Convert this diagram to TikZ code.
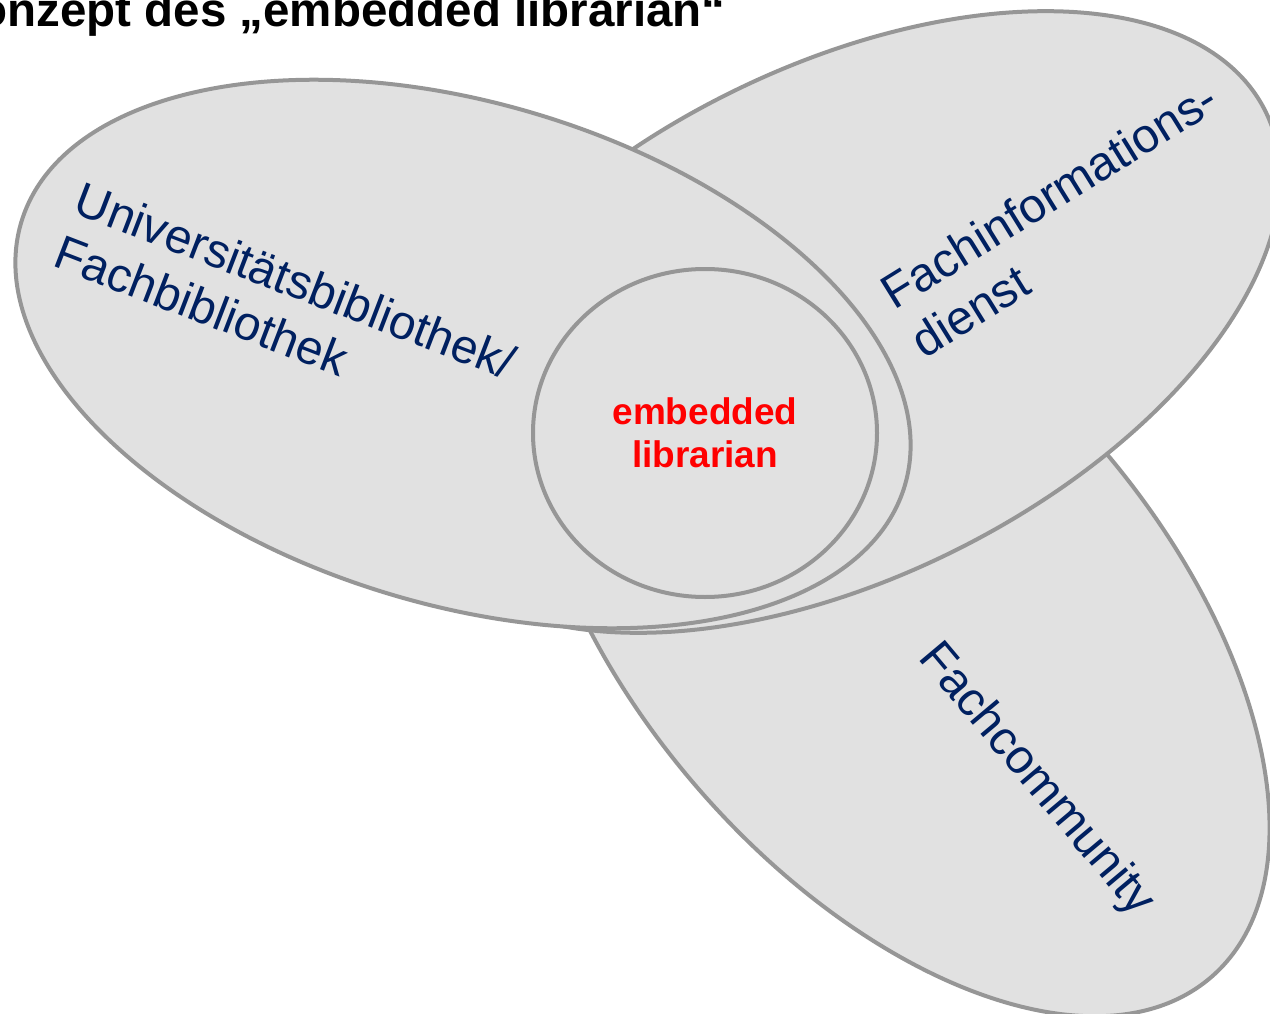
\documentclass[tikz,border=0pt]{standalone}
\usepackage{fontspec}
\setmainfont{Liberation Sans}
\usetikzlibrary{shapes.geometric}

\definecolor{fieldgray}{RGB}{225,225,225}
\definecolor{rimgray}{RGB}{150,150,150}
\definecolor{navyblue}{RGB}{0,32,96}

\begin{document}
\begin{tikzpicture}[x = 1pt, y = -1pt,
	field/.style = {ellipse, draw = rimgray, fill = fieldgray, line width = 4pt, inner sep = 0pt},
	fieldtext/.style = {text = navyblue, font = \fontsize{48}{57}\selectfont, align = left, inner sep = 0pt}]

	% Frame

	\useasboundingbox (0, 0) rectangle (1270, 1014);
	\clip (0, 0) rectangle (1270, 1014);

	% Title

	\node [anchor = base west, inner sep = 0pt, font = \bfseries\fontsize{47.5}{55}\selectfont] (title) at (-56, 27) {Konzept des „embedded librarian“};

	% Fields, back to front

	\node [field, rotate = -49, minimum width = 956pt, minimum height = 528pt] (community) at (898, 616) {};
	\node [field, rotate = 26.5, minimum width = 946pt, minimum height = 510pt] (service) at (842, 322) {};
	\node [field, rotate = -16.6, minimum width = 922pt, minimum height = 502pt] (library) at (463, 354) {};
	\node [field, minimum width = 344pt, minimum height = 328pt, text = red, align = center, font = \bfseries\fontsize{37}{43}\selectfont] (embedded) at (705, 433) {embedded\\librarian};

	% Field names

	\node [fieldtext, rotate = -21, anchor = north west] (library name) at (84, 180) {Universitätsbibliothek/\\Fachbibliothek};
	\node [fieldtext, rotate = 31.8, anchor = north west] (service name) at (876, 281) {Fachinformations-\\dienst};
	\node [fieldtext, rotate = -50, anchor = north west] (community name) at (944, 636) {Fachcommunity};

\end{tikzpicture}
\end{document}
